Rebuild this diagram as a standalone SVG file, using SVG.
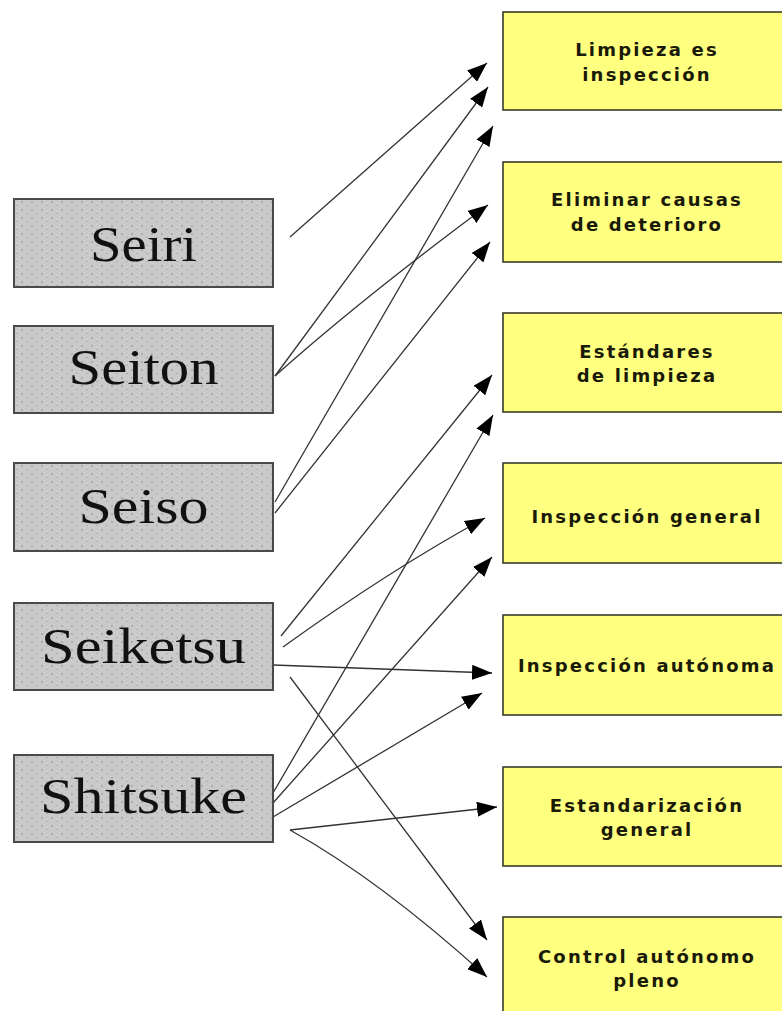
<svg xmlns="http://www.w3.org/2000/svg" width="782" height="1011" viewBox="0 0 782 1011">
<style>
.lbox{fill:url(#dots);stroke:#4a4a4a;stroke-width:2}
.ltxt{font-family:"Liberation Serif","Times New Roman",serif;font-size:51px;fill:#111;text-anchor:middle}
.rbox{fill:#ffff80;stroke:#3a3a2a;stroke-width:1.6}
.rtxt{font-family:"DejaVu Sans","Liberation Sans",sans-serif;font-weight:bold;font-size:18px;letter-spacing:2.2px;fill:#1a1a08;text-anchor:middle}
.con{fill:none;stroke:#333;stroke-width:1.3;marker-end:url(#ah)}
</style>
<defs>
<pattern id="dots" width="10" height="8" patternUnits="userSpaceOnUse">
<rect width="10" height="8" fill="#cacaca"/>
<circle cx="2" cy="2" r="0.7" fill="#7a7a7a"/>
<circle cx="7" cy="5.5" r="0.6" fill="#8a8a8a"/>
</pattern>
<marker id="ah" viewBox="0 0 20 15" refX="20" refY="7.5" markerWidth="20" markerHeight="15" markerUnits="userSpaceOnUse" orient="auto">
<path d="M0,0 L20,7.5 L0,15 z" fill="#000"/>
</marker>
</defs>
<rect width="782" height="1011" fill="#fff"/>
<g id="connectors">
<path class="con" d="M290,237 L487,63"/>
<path class="con" d="M275,376 L488,87"/>
<path class="con" d="M275,376 Q360,300 488,205"/>
<path class="con" d="M275,502 L493,126"/>
<path class="con" d="M275,513 L490,242"/>
<path class="con" d="M281,636 L492,375"/>
<path class="con" d="M283,647 Q390,570 485,518"/>
<path class="con" d="M273,665 L492,673"/>
<path class="con" d="M290,677 L487,940"/>
<path class="con" d="M273,793 L493,415"/>
<path class="con" d="M273,803 L492,557"/>
<path class="con" d="M273,817 L482,693"/>
<path class="con" d="M290,830 L497,807"/>
<path class="con" d="M290,830 Q380,880 487,977"/>
</g>
<g id="seiri"><rect class="lbox" x="14" y="199" width="259" height="88"/><text class="ltxt" x="143.5" y="261" textLength="107" lengthAdjust="spacingAndGlyphs">Seiri</text></g>
<g id="seiton"><rect class="lbox" x="14" y="326" width="259" height="87"/><text class="ltxt" x="143.5" y="384" textLength="150" lengthAdjust="spacingAndGlyphs">Seiton</text></g>
<g id="seiso"><rect class="lbox" x="14" y="463" width="259" height="88"/><text class="ltxt" x="143.5" y="523" textLength="130" lengthAdjust="spacingAndGlyphs">Seiso</text></g>
<g id="seiketsu"><rect class="lbox" x="14" y="603" width="259" height="87"/><text class="ltxt" x="143.5" y="663" textLength="205" lengthAdjust="spacingAndGlyphs">Seiketsu</text></g>
<g id="shitsuke"><rect class="lbox" x="14" y="755" width="259" height="87"/><text class="ltxt" x="143.5" y="813" textLength="207" lengthAdjust="spacingAndGlyphs">Shitsuke</text></g>
<g id="limpieza"><rect class="rbox" x="503" y="12" width="290" height="98"/><text class="rtxt" x="647" y="56">Limpieza es</text><text class="rtxt" x="647" y="81">inspección</text></g>
<g id="eliminar"><rect class="rbox" x="503" y="162" width="290" height="100"/><text class="rtxt" x="647" y="206">Eliminar causas</text><text class="rtxt" x="647" y="231">de deterioro</text></g>
<g id="estandares"><rect class="rbox" x="503" y="313" width="290" height="99"/><text class="rtxt" x="647" y="358">Estándares</text><text class="rtxt" x="647" y="382">de limpieza</text></g>
<g id="insp-general"><rect class="rbox" x="503" y="463" width="290" height="100"/><text class="rtxt" x="647" y="523">Inspección general</text></g>
<g id="insp-autonoma"><rect class="rbox" x="503" y="615" width="290" height="100"/><text class="rtxt" x="647" y="672">Inspección autónoma</text></g>
<g id="estandarizacion"><rect class="rbox" x="503" y="767" width="290" height="99"/><text class="rtxt" x="647" y="812">Estandarización</text><text class="rtxt" x="647" y="836">general</text></g>
<g id="control"><rect class="rbox" x="503" y="917" width="290" height="100"/><text class="rtxt" x="647" y="963">Control autónomo</text><text class="rtxt" x="647" y="987">pleno</text></g>
</svg>
